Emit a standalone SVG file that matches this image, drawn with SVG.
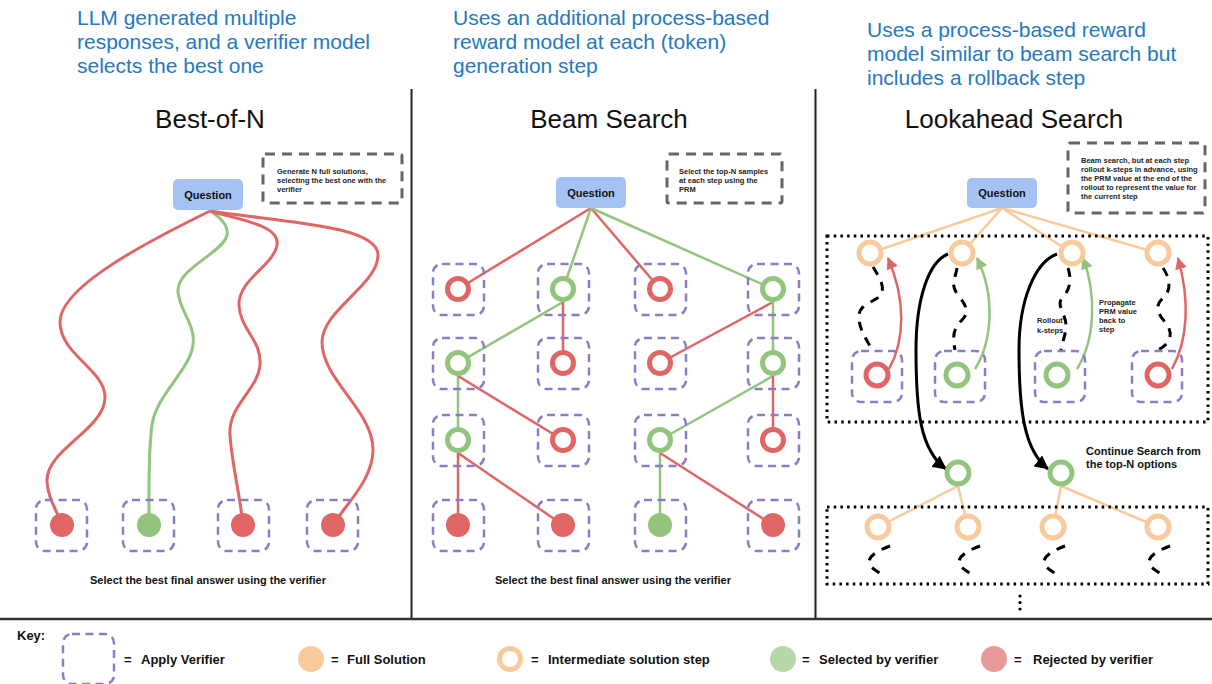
<svg xmlns="http://www.w3.org/2000/svg" width="1212" height="684" viewBox="0 0 1212 684">
  <defs>
    <style>
      text { font-family: "Liberation Sans", Arial, Helvetica, sans-serif; }
      .hdr { fill: #2479c0; font-size: 21px; }
      .ttl { fill: #111; font-size: 26px; text-anchor: middle; }
      .qbox { fill: #a4c2f4; }
      .qt { font-size: 11px; font-weight: bold; text-anchor: middle; fill: #111; }
      .note { fill: none; stroke: #666; stroke-width: 3; stroke-dasharray: 10 7; }
      .nt { font-size: 7.5px; font-weight: bold; fill: #222; }
      .lbl { font-size: 11px; font-weight: bold; fill: #111; }
      .cap { font-size: 11px; font-weight: bold; fill: #111; text-anchor: middle; }
      .key { font-size: 13px; font-weight: bold; fill: #111; }
      .vb { fill: none; stroke: #8e7cc3; stroke-width: 2.5; stroke-dasharray: 8 5.5; }
      .rr { fill: #fff; stroke: #e06666; stroke-width: 5; }
      .rg { fill: #fff; stroke: #93c47d; stroke-width: 5; }
      .ro { fill: #fff; stroke: #f9cb9c; stroke-width: 5; }
      .dr { fill: #e06666; }
      .dg { fill: #93c47d; }
      .er { fill: none; stroke: #e06666; stroke-width: 2.5; }
      .eg { fill: none; stroke: #93c47d; stroke-width: 2.5; }
      .eo { fill: none; stroke: #f9cb9c; stroke-width: 2.5; }
      .wr { fill: none; stroke: #e06666; stroke-width: 3; }
      .wg { fill: none; stroke: #93c47d; stroke-width: 3; }
      .roll { fill: none; stroke: #000; stroke-width: 3; stroke-dasharray: 9 8; }
      .dots { fill: none; stroke: #000; stroke-width: 3; stroke-dasharray: 2.5 4.2; }
      .rule { stroke: #222; stroke-width: 2; }
    </style>
    <marker id="ah-red" markerUnits="userSpaceOnUse" markerWidth="12" markerHeight="12" refX="11" refY="6" orient="auto">
      <path d="M0,0 L12,6 L0,12 z" fill="#e06666"/>
    </marker>
    <marker id="ah-green" markerUnits="userSpaceOnUse" markerWidth="12" markerHeight="12" refX="11" refY="6" orient="auto">
      <path d="M0,0 L12,6 L0,12 z" fill="#93c47d"/>
    </marker>
    <marker id="ah-black" markerUnits="userSpaceOnUse" markerWidth="14" markerHeight="14" refX="13" refY="7" orient="auto">
      <path d="M0,0 L14,7 L0,14 z" fill="#000"/>
    </marker>
  </defs>

  <rect width="1212" height="684" fill="#fff"/>

  <!-- column headings -->
  <g id="headings">
    <text class="hdr" x="77" y="25">LLM generated multiple</text>
    <text class="hdr" x="77" y="49">responses, and a verifier model</text>
    <text class="hdr" x="77" y="73">selects the best one</text>
    <text class="hdr" x="453" y="25">Uses an additional process-based</text>
    <text class="hdr" x="453" y="49">reward model at each (token)</text>
    <text class="hdr" x="453" y="73">generation step</text>
    <text class="hdr" x="867" y="37">Uses a process-based reward</text>
    <text class="hdr" x="867" y="61">model similar to beam search but</text>
    <text class="hdr" x="867" y="85">includes a rollback step</text>
    <text class="ttl" x="210" y="128">Best-of-N</text>
    <text class="ttl" x="609" y="128">Beam Search</text>
    <text class="ttl" x="1014" y="128">Lookahead Search</text>
  </g>

  <!-- panel rules -->
  <g id="rules">
    <line class="rule" x1="411.5" y1="89" x2="411.5" y2="619"/>
    <line class="rule" x1="815.5" y1="89" x2="815.5" y2="619"/>
    <line x1="0" y1="619" x2="1212" y2="619" stroke="#333" stroke-width="2.5"/>
  </g>

  <!-- connectors -->
  <g id="connectors">
    <!-- Best-of-N full generations -->
    <path class="wr" d="M210,211 C130,250 60,290 60,322 C60,355 106,370 105,398 C104,430 45,450 47,482 C48,500 58,512 62,525"/>
    <path class="wg" d="M210,211 C225,220 230,230 226,238 C218,255 176,270 178,292 C180,312 196,325 193,345 C190,370 156,395 152,425 C148,455 149,490 149,525"/>
    <path class="wr" d="M210,211 C240,220 280,225 277,245 C274,265 238,280 239,305 C240,330 262,340 260,365 C258,390 228,405 230,435 C232,465 240,495 243,525"/>
    <path class="wr" d="M210,211 C280,222 378,225 378,255 C378,285 322,310 322,342 C322,380 373,410 373,450 C373,480 345,505 333,525"/>

    <!-- Beam search steps -->
    <line class="er" x1="591" y1="208" x2="458" y2="289"/>
    <line class="eg" x1="591" y1="208" x2="563" y2="289"/>
    <line class="er" x1="591" y1="208" x2="660" y2="289"/>
    <line class="eg" x1="591" y1="208" x2="773" y2="289"/>
    <line class="eg" x1="563" y1="302" x2="458" y2="363"/>
    <line class="er" x1="563" y1="302" x2="563" y2="363"/>
    <line class="er" x1="773" y1="302" x2="660" y2="363"/>
    <line class="eg" x1="773" y1="302" x2="773" y2="363"/>
    <line class="eg" x1="458" y1="376" x2="458" y2="440"/>
    <line class="er" x1="458" y1="376" x2="563" y2="440"/>
    <line class="eg" x1="773" y1="376" x2="660" y2="440"/>
    <line class="er" x1="773" y1="376" x2="773" y2="440"/>
    <line class="er" x1="458" y1="453" x2="458" y2="525"/>
    <line class="er" x1="458" y1="453" x2="563" y2="525"/>
    <line class="eg" x1="660" y1="453" x2="660" y2="525"/>
    <line class="er" x1="660" y1="453" x2="773" y2="525"/>

    <!-- Lookahead: candidate steps -->
    <line class="eo" x1="1002" y1="208" x2="870" y2="253"/>
    <line class="eo" x1="1002" y1="208" x2="962" y2="253"/>
    <line class="eo" x1="1002" y1="208" x2="1072" y2="253"/>
    <line class="eo" x1="1002" y1="208" x2="1158" y2="253"/>

    <!-- Lookahead: rollouts -->
    <path class="roll" d="M873,267 C880,278 886,288 880,296 C874,302 860,304 859,315 C858,328 866,338 872,350"/>
    <path class="roll" d="M957,268 C955,280 950,285 958,295 C966,305 970,312 962,320 C954,328 952,335 955,350"/>
    <path class="roll" d="M1068,268 C1072,280 1070,290 1062,298 C1056,305 1066,315 1066,325 C1066,335 1062,342 1061,350"/>
    <path class="roll" d="M1163,268 C1170,278 1172,290 1163,298 C1154,306 1158,314 1165,322 C1172,330 1174,342 1158,350"/>

    <!-- Lookahead: PRM value propagated back -->
    <path class="er" d="M889,369 C905,340 906,300 888,258" marker-end="url(#ah-red)"/>
    <path class="eg" d="M975,369 C993,340 995,295 977,258" marker-end="url(#ah-green)"/>
    <path class="eg" d="M1077,369 C1095,340 1097,295 1083,258" marker-end="url(#ah-green)"/>
    <path class="er" d="M1172,369 C1188,340 1190,300 1178,258" marker-end="url(#ah-red)"/>

    <!-- Lookahead: continue from selected steps -->
    <path fill="none" stroke="#000" stroke-width="3" d="M948,254 C928,262 916,300 916,350 C916,410 920,450 946,469" marker-end="url(#ah-black)"/>
    <path fill="none" stroke="#000" stroke-width="3" d="M1057,254 C1035,262 1019,300 1019,350 C1019,410 1024,450 1048,469" marker-end="url(#ah-black)"/>

    <!-- Lookahead: next expansion -->
    <line class="eo" x1="958" y1="486" x2="878" y2="527"/>
    <line class="eo" x1="958" y1="486" x2="968" y2="527"/>
    <line class="eo" x1="1061" y1="486" x2="1053" y2="527"/>
    <line class="eo" x1="1061" y1="486" x2="1158" y2="527"/>
    <path class="roll" d="M890,546 C876,551 866,558 870,565 C873,570 880,572 882,576"/>
    <path class="roll" d="M980,546 C966,551 956,558 960,565 C963,570 970,572 972,576"/>
    <path class="roll" d="M1065,546 C1051,551 1041,558 1045,565 C1048,570 1055,572 1057,576"/>
    <path class="roll" d="M1170,546 C1156,551 1146,558 1150,565 C1153,570 1160,572 1162,576"/>
  </g>

  <!-- Best-of-N -->
  <g id="bon-question">
    <rect class="qbox" x="173" y="179" width="70" height="31" rx="5"/>
    <text class="qt" x="208" y="199">Question</text>
  </g>
  <g id="bon-note">
    <rect class="note" x="263" y="154" width="139" height="49" rx="2"/>
    <text class="nt" x="277" y="174">Generate N full solutions,</text>
    <text class="nt" x="277" y="183">selecting the best one with the</text>
    <text class="nt" x="277" y="192">verifier</text>
  </g>
  <g id="bon-a1"><rect class="vb" x="36" y="500" width="51" height="51" rx="9"/><circle class="dr" cx="62" cy="525" r="12"/></g>
  <g id="bon-a2"><rect class="vb" x="123" y="500" width="51" height="51" rx="9"/><circle class="dg" cx="149" cy="525" r="12"/></g>
  <g id="bon-a3"><rect class="vb" x="218" y="500" width="51" height="51" rx="9"/><circle class="dr" cx="243" cy="525" r="12"/></g>
  <g id="bon-a4"><rect class="vb" x="307" y="500" width="51" height="51" rx="9"/><circle class="dr" cx="333" cy="525" r="12"/></g>
  <text class="cap" x="208" y="584">Select the best final answer using the verifier</text>

  <!-- Beam Search -->
  <g id="beam-question">
    <rect class="qbox" x="556" y="177" width="70" height="31" rx="5"/>
    <text class="qt" x="591" y="197">Question</text>
  </g>
  <g id="beam-note">
    <rect class="note" x="667" y="154" width="115" height="49" rx="2"/>
    <text class="nt" x="679" y="174">Select the top-N samples</text>
    <text class="nt" x="679" y="183">at each step using the</text>
    <text class="nt" x="679" y="192">PRM</text>
  </g>
  <g id="beam-r1c1"><rect class="vb" x="433" y="264" width="51" height="51" rx="9"/><circle class="rr" cx="458" cy="289" r="10.5"/></g>
  <g id="beam-r1c2"><rect class="vb" x="538" y="264" width="51" height="51" rx="9"/><circle class="rg" cx="563" cy="289" r="10.5"/></g>
  <g id="beam-r1c3"><rect class="vb" x="635" y="264" width="51" height="51" rx="9"/><circle class="rr" cx="660" cy="289" r="10.5"/></g>
  <g id="beam-r1c4"><rect class="vb" x="748" y="264" width="51" height="51" rx="9"/><circle class="rg" cx="773" cy="289" r="10.5"/></g>
  <g id="beam-r2c1"><rect class="vb" x="433" y="338" width="51" height="51" rx="9"/><circle class="rg" cx="458" cy="363" r="10.5"/></g>
  <g id="beam-r2c2"><rect class="vb" x="538" y="338" width="51" height="51" rx="9"/><circle class="rr" cx="563" cy="363" r="10.5"/></g>
  <g id="beam-r2c3"><rect class="vb" x="635" y="338" width="51" height="51" rx="9"/><circle class="rr" cx="660" cy="363" r="10.5"/></g>
  <g id="beam-r2c4"><rect class="vb" x="748" y="338" width="51" height="51" rx="9"/><circle class="rg" cx="773" cy="363" r="10.5"/></g>
  <g id="beam-r3c1"><rect class="vb" x="433" y="415" width="51" height="51" rx="9"/><circle class="rg" cx="458" cy="440" r="10.5"/></g>
  <g id="beam-r3c2"><rect class="vb" x="538" y="415" width="51" height="51" rx="9"/><circle class="rr" cx="563" cy="440" r="10.5"/></g>
  <g id="beam-r3c3"><rect class="vb" x="635" y="415" width="51" height="51" rx="9"/><circle class="rg" cx="660" cy="440" r="10.5"/></g>
  <g id="beam-r3c4"><rect class="vb" x="748" y="415" width="51" height="51" rx="9"/><circle class="rr" cx="773" cy="440" r="10.5"/></g>
  <g id="beam-r4c1"><rect class="vb" x="433" y="500" width="51" height="51" rx="9"/><circle class="dr" cx="458" cy="525" r="12"/></g>
  <g id="beam-r4c2"><rect class="vb" x="538" y="500" width="51" height="51" rx="9"/><circle class="dr" cx="563" cy="525" r="12"/></g>
  <g id="beam-r4c3"><rect class="vb" x="635" y="500" width="51" height="51" rx="9"/><circle class="dg" cx="660" cy="525" r="12"/></g>
  <g id="beam-r4c4"><rect class="vb" x="748" y="500" width="51" height="51" rx="9"/><circle class="dr" cx="773" cy="525" r="12"/></g>
  <text class="cap" x="613" y="584">Select the best final answer using the verifier</text>

  <!-- Lookahead Search -->
  <g id="la-question">
    <rect class="qbox" x="967" y="178" width="70" height="30" rx="5"/>
    <text class="qt" x="1002" y="197">Question</text>
  </g>
  <g id="la-note">
    <rect class="note" x="1068" y="143" width="137" height="70" rx="2"/>
    <text class="nt" x="1081" y="163">Beam search, but at each step</text>
    <text class="nt" x="1081" y="172">rollout k-steps in advance, using</text>
    <text class="nt" x="1081" y="181">the PRM value at the end of the</text>
    <text class="nt" x="1081" y="190">rollout to represent the value for</text>
    <text class="nt" x="1081" y="199">the current step</text>
  </g>
  <g id="la-frame-1"><rect class="dots" x="827" y="236" width="381" height="186"/></g>
  <g id="la-step-1"><circle class="ro" cx="870" cy="253" r="11"/></g>
  <g id="la-step-2"><circle class="ro" cx="962" cy="253" r="11"/></g>
  <g id="la-step-3"><circle class="ro" cx="1072" cy="253" r="11"/></g>
  <g id="la-step-4"><circle class="ro" cx="1158" cy="253" r="11"/></g>
  <g id="la-roll-1"><rect class="vb" x="852" y="351" width="50" height="51" rx="9"/><circle class="rr" cx="877" cy="375" r="11"/></g>
  <g id="la-roll-2"><rect class="vb" x="935" y="351" width="50" height="51" rx="9"/><circle class="rg" cx="957" cy="375" r="11"/></g>
  <g id="la-roll-3"><rect class="vb" x="1035" y="351" width="50" height="51" rx="9"/><circle class="rg" cx="1057" cy="375" r="11"/></g>
  <g id="la-roll-4"><rect class="vb" x="1132" y="351" width="50" height="51" rx="9"/><circle class="rr" cx="1158" cy="375" r="11"/></g>
  <g id="la-labels">
    <text class="nt" x="1037" y="323">Rollout</text>
    <text class="nt" x="1037" y="333">k-steps</text>
    <text class="nt" x="1099" y="305">Propagate</text>
    <text class="nt" x="1099" y="314">PRM value</text>
    <text class="nt" x="1099" y="323">back to</text>
    <text class="nt" x="1099" y="332">step</text>
    <text class="lbl" x="1086" y="455">Continue Search from</text>
    <text class="lbl" x="1086" y="468">the top-N options</text>
  </g>
  <g id="la-top-1"><circle class="rg" cx="958" cy="473" r="11"/></g>
  <g id="la-top-2"><circle class="rg" cx="1061" cy="473" r="11"/></g>
  <g id="la-frame-2"><rect class="dots" x="827" y="507" width="381" height="77"/></g>
  <g id="la-next-1"><circle class="ro" cx="878" cy="527" r="11"/></g>
  <g id="la-next-2"><circle class="ro" cx="968" cy="527" r="11"/></g>
  <g id="la-next-3"><circle class="ro" cx="1053" cy="527" r="11"/></g>
  <g id="la-next-4"><circle class="ro" cx="1158" cy="527" r="11"/></g>
  <g id="la-more">
    <circle cx="1020" cy="596" r="1.6"/>
    <circle cx="1020" cy="602.5" r="1.6"/>
    <circle cx="1020" cy="609" r="1.6"/>
  </g>

  <!-- Legend -->
  <g id="legend">
    <text class="key" x="17" y="640">Key:</text>
    <rect class="vb" x="63" y="634" width="51" height="50" rx="9"/>
    <text class="key" x="124" y="664">=</text>
    <text class="key" x="141" y="664">Apply Verifier</text>
    <circle cx="311" cy="659" r="13" fill="#f9cb9c"/>
    <text class="key" x="331" y="664">=</text>
    <text class="key" x="347" y="664">Full Solution</text>
    <circle cx="510" cy="659" r="10.5" fill="#fff" stroke="#f9cb9c" stroke-width="5"/>
    <text class="key" x="531" y="664">=</text>
    <text class="key" x="548" y="664">Intermediate solution step</text>
    <circle cx="783" cy="659" r="13" fill="#b6d7a8"/>
    <text class="key" x="802" y="664">=</text>
    <text class="key" x="819" y="664">Selected by verifier</text>
    <circle cx="994" cy="659" r="13" fill="#ea9999"/>
    <text class="key" x="1014" y="664">=</text>
    <text class="key" x="1033" y="664">Rejected by verifier</text>
  </g>
</svg>
